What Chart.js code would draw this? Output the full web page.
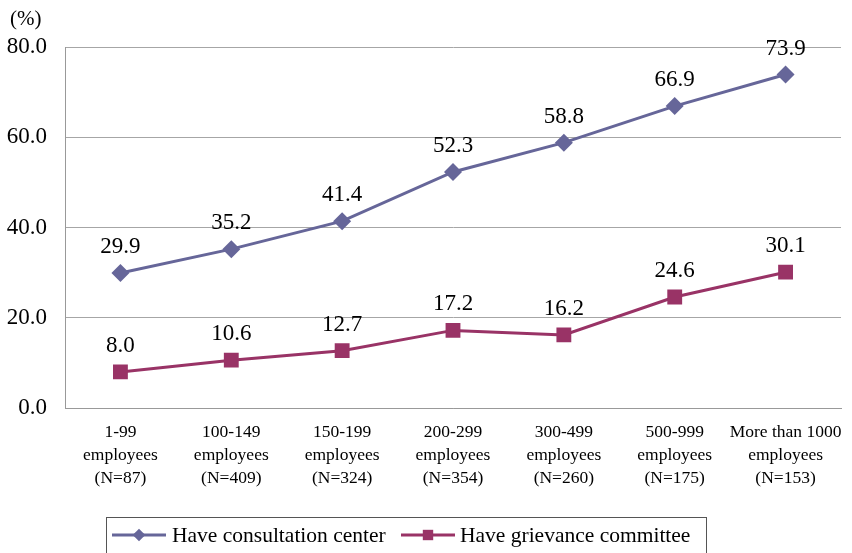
<!DOCTYPE html>
<html>
<head>
<meta charset="utf-8">
<script src="https://cdn.jsdelivr.net/npm/chart.js@4.4.1/dist/chart.umd.min.js"></script>
<style>
  html, body { margin: 0; padding: 0; background: #fff; }
  #wrap { width: 852px; height: 553px; position: relative; }
</style>
</head>
<body>
<div id="wrap"><canvas id="myChart" width="852" height="553"></canvas></div>
<script>
var categories = [
  ['1-99', 'employees', '(N=87)'],
  ['100-149', 'employees', '(N=409)'],
  ['150-199', 'employees', '(N=324)'],
  ['200-299', 'employees', '(N=354)'],
  ['300-499', 'employees', '(N=260)'],
  ['500-999', 'employees', '(N=175)'],
  ['More than 1000', 'employees', '(N=153)']
];
var consultation = [29.9, 35.2, 41.4, 52.3, 58.8, 66.9, 73.9];
var grievance = [8.0, 10.6, 12.7, 17.2, 16.2, 24.6, 30.1];
var seriesNames = ['Have consultation center', 'Have grievance committee'];
var yTicks = [0, 20, 40, 60, 80];

var serif = '"Liberation Serif", "Times New Roman", serif';

// values above each point
var valueLabels = {
  id: 'valueLabels',
  afterDatasetsDraw: function (chart) {
    var ctx = chart.ctx;
    ctx.save();
    ctx.font = '23px ' + serif;
    ctx.fillStyle = '#000';
    ctx.textAlign = 'center';
    ctx.textBaseline = 'middle';
    chart.data.datasets.forEach(function (ds, i) {
      chart.getDatasetMeta(i).data.forEach(function (pt, j) {
        ctx.fillText(ds.data[j].toFixed(1), pt.x, pt.y - 26);
      });
    });
    ctx.restore();
  }
};

// unit note and boxed legend
var extras = {
  id: 'extras',
  afterDraw: function (chart) {
    var ctx = chart.ctx;
    ctx.save();
    ctx.fillStyle = '#000';
    ctx.font = '21px ' + serif;
    ctx.textAlign = 'left';
    ctx.textBaseline = 'middle';
    ctx.fillText('(%)', 10, 19);

    ctx.strokeStyle = '#555';
    ctx.lineWidth = 1;
    ctx.strokeRect(106.5, 517.5, 600, 40);

    var items = [{ x: 112, tx: 172 }, { x: 401, tx: 460 }];
    var y = 535;
    chart.data.datasets.forEach(function (ds, i) {
      var it = items[i];
      ctx.strokeStyle = ds.borderColor;
      ctx.lineWidth = 3;
      ctx.beginPath();
      ctx.moveTo(it.x, y);
      ctx.lineTo(it.x + 54, y);
      ctx.stroke();
      ctx.fillStyle = ds.borderColor;
      Chart.helpers.drawPoint(ctx, {
        pointStyle: ds.pointStyle, radius: ds.pointRadius * 0.7, borderWidth: 0
      }, it.x + 27, y);
      ctx.fillStyle = '#000';
      ctx.font = '21.5px ' + serif;
      ctx.fillText(ds.label, it.tx, y + 1);
    });
    ctx.restore();
  }
};

var ctx = document.getElementById('myChart');
var myChart = new Chart(ctx, {
  type: 'line',
  data: {
    labels: categories,
    datasets: [
      {
        label: seriesNames[0],
        data: consultation,
        borderColor: '#666699',
        backgroundColor: '#666699',
        borderWidth: 3,
        pointStyle: 'rectRot',
        pointRadius: 9,
        pointHoverRadius: 9,
        pointBorderWidth: 0,
        tension: 0
      },
      {
        label: seriesNames[1],
        data: grievance,
        borderColor: '#993366',
        backgroundColor: '#993366',
        borderWidth: 3,
        pointStyle: 'rect',
        pointRadius: 10.5,
        pointHoverRadius: 10.5,
        pointBorderWidth: 0,
        tension: 0
      }
    ]
  },
  options: {
    responsive: false,
    animation: false,
    layout: { padding: { top: 47, right: 11, bottom: 0, left: 0 } },
    plugins: {
      legend: { display: false },
      tooltip: { enabled: false }
    },
    scales: {
      x: {
        offset: true,
        grid: { display: false, drawTicks: false },
        border: { color: '#999', width: 1 },
        ticks: {
          color: '#000',
          font: { family: serif, size: 17.5, lineHeight: 1.31 },
          padding: 13,
          maxRotation: 0,
          autoSkip: false
        },
        afterFit: function (s) {
          s.height = 145;
          s.paddingLeft = 0;
          s.paddingRight = 0;
        }
      },
      y: {
        min: 0,
        max: 80,
        afterBuildTicks: function (s) {
          s.ticks = yTicks.map(function (v) { return { value: v }; });
        },
        grid: { color: '#a6a6a6', lineWidth: 1, drawTicks: false },
        border: { color: '#999', width: 1 },
        ticks: {
          color: '#000',
          font: { family: serif, size: 23 },
          padding: 18,
          callback: function (v) { return Number(v).toFixed(1); }
        },
        afterFit: function (s) { s.width = 65; }
      }
    }
  },
  plugins: [valueLabels, extras]
});
</script>
</body>
</html>
